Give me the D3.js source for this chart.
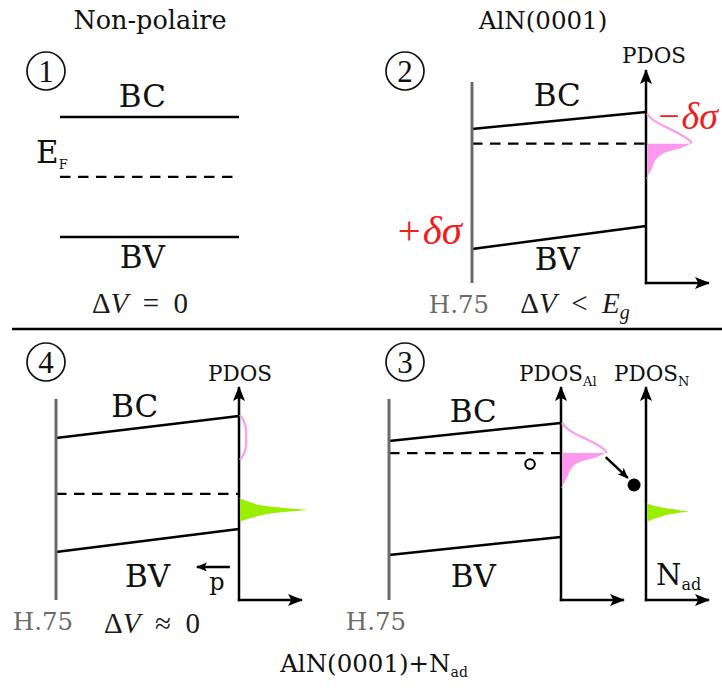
<!DOCTYPE html>
<html>
<head>
<meta charset="utf-8">
<script src="https://cdn.jsdelivr.net/npm/d3@7"></script>
<style>
body{margin:0;background:#fff}
svg{display:block}
text{font-family:"DejaVu Serif",serif;fill:#111}
.math{font-family:"Liberation Serif","Times New Roman",serif}
</style>
</head>
<body>
<div id="wrapper"></div>
<script>
// band edges, in % of the panel height (0 = foot of the PDOS axis, 100 = arrow tip)
const panelIds   = ["1", "2", "4", "3"];
const bcLeft     = [77.9, 72.3, 76.1, 74.6];
const bcRight    = [77.9, 80.3, 86.4, 83.1];
const fermiLevel = [49.8, 65.4, 49.8, 69.0];
const bvLeft     = [21.6, 16.0, 22.5, 21.1];
const bvRight    = [21.6, 26.8, 33.3, 29.6];
const titles     = ["Non-polaire", "AlN(0001)"];
const surfaceLabel = "H.75";

// PDOS curves : [energy, density]
// Al surface state, energy relative to E_F
const pdosAl = [[14.1,0],[11.5,0.08],[8.5,0.25],[6.5,0.39],[4.7,0.51],[2.5,0.63],[0.5,0.70],[0,0.70],
                [-1.9,0.57],[-4.2,0.30],[-7.0,0.17],[-11.3,0.10],[-14.5,0.04],[-16.4,0]];
// empty state near BC, panel 4
const pdosEmpty4 = [[86.9,0],[84,0.06],[80,0.095],[75,0.1],[70,0.08],[67.5,0.04],[65.7,0]];
// N adatom states
const pdosN4 = [[47.9,0],[46.5,0.12],[45.5,0.22],[44.6,0.32],[43.7,0.55],[43.0,0.8],[42.3,1.07],
                [41.6,0.8],[40.8,0.55],[39.5,0.32],[38.4,0.18],[37.4,0.07],[36.6,0]];
const pdosN3 = [[45.5,0],[44.6,0.08],[43.7,0.22],[42.8,0.38],[42.3,0.5],[41.5,0.67],
                [40.8,0.5],[40.2,0.38],[39.0,0.22],[37.6,0.08],[36.6,0]];
// charge transfer, panel 3 : hole (slab fraction, E), electron (density, E)
const hole3 = [0.82, 63.8];
const electron3 = [1.16, 54.0];
const transfer3 = [[0.71, 67.1], [1.06, 57.3]];
// polarisation vector, panel 4 (slab fraction, E)
const pVector = [[0.95, 15.5], [0.77, 15.5]];

const width = 722, height = 690;
const panelH = 213, dosW = 63;

const layout = [
  {x0:60,  x1:239, base:283, gray:false, axes:[],         num:[46,71]},
  {x0:472, x1:646, base:283, gray:true,  axes:[646],      num:[405,71]},
  {x0:56,  x1:239, base:600, gray:true,  axes:[239],      num:[46,362]},
  {x0:389, x1:561, base:600, gray:true,  axes:[561, 646], num:[405,362]}
];
const bcLabel = [[0.46,82.6],[0.49,83.1],[0.43,85.9],[0.49,83.6]];
const bvLabel = [[0.46,7.0],[0.49,6.1],[0.50,6.1],[0.49,6.1]];

const svg = d3.select("#wrapper").append("svg")
    .attr("width", width).attr("height", height);

const defs = svg.append("defs");
const addMarker = (id, len, w) => {
  defs.append("marker")
    .attr("id", id)
    .attr("markerUnits", "userSpaceOnUse")
    .attr("viewBox", `0 ${-w/2} ${len} ${w}`)
    .attr("markerWidth", len).attr("markerHeight", w)
    .attr("refX", len - 1).attr("refY", 0)
    .attr("orient", "auto")
    .append("path")
    .attr("d", `M0,${-w/2}L${len},0L0,${w/2}L${len*0.22},0Z`)
    .attr("fill", "#000");
};
addMarker("big", 15, 12);
addMarker("small", 11, 9);

const pinkLine = "#f6a2ec", pinkFill = "#fc98ee", green = "#9aee00";
const grey = "#6b6b6b", red = "#f21d1d";

// separator
svg.append("line")
  .attr("x1", 12).attr("x2", width).attr("y1", 329).attr("y2", 329)
  .attr("stroke", "#000").attr("stroke-width", 2.5);

const scales = [];

layout.forEach((p, i) => {
  const y = d3.scaleLinear().domain([0, 100]).range([p.base, p.base - panelH]);
  const x = d3.scaleLinear().domain([0, 1]).range([p.x0, p.x1]);
  scales.push({x, y});
  const g = svg.append("g");

  // bands
  const bands = [[bcLeft[i], bcRight[i]], [bvLeft[i], bvRight[i]]];
  g.selectAll(".band").data(bands).enter().append("line")
    .attr("x1", x(0)).attr("x2", x(1))
    .attr("y1", d => y(d[0])).attr("y2", d => y(d[1]))
    .attr("stroke", "#000").attr("stroke-width", 2.5);

  g.append("line")
    .attr("x1", x(0)).attr("x2", x(1))
    .attr("y1", y(fermiLevel[i])).attr("y2", y(fermiLevel[i]))
    .attr("stroke", "#000").attr("stroke-width", 2.3)
    .attr("stroke-dasharray", "10.5,7.5");

  if (p.gray) {
    g.append("line")
      .attr("x1", x(0)).attr("x2", x(0))
      .attr("y1", y(0)).attr("y2", y(94.4))
      .attr("stroke", grey).attr("stroke-width", 3);
    g.append("text")
      .attr("x", x(0) - 13).attr("y", y(0) + 30)
      .attr("text-anchor", "middle").style("font-size", "24.5px").style("fill", grey)
      .text(surfaceLabel);
  }

  p.axes.forEach(ax => {
    g.append("line")
      .attr("x1", ax).attr("x2", ax).attr("y1", y(0) + 1.2).attr("y2", y(100))
      .attr("stroke", "#000").attr("stroke-width", 2.5)
      .attr("marker-end", "url(#big)");
    g.append("line")
      .attr("x1", ax - 1.2).attr("x2", ax + dosW).attr("y1", y(0)).attr("y2", y(0))
      .attr("stroke", "#000").attr("stroke-width", 2.5)
      .attr("marker-end", "url(#big)");
  });

  // band labels
  g.append("text")
    .attr("x", x(bcLabel[i][0])).attr("y", y(bcLabel[i][1]))
    .attr("text-anchor", "middle").style("font-size", "31px").text("BC");
  g.append("text")
    .attr("x", x(bvLabel[i][0])).attr("y", y(bvLabel[i][1]))
    .attr("text-anchor", "middle").style("font-size", "31px").text("BV");

  // circled number
  g.append("circle")
    .attr("cx", p.num[0]).attr("cy", p.num[1]).attr("r", 19)
    .attr("fill", "none").attr("stroke", "#111").attr("stroke-width", 1.7);
  g.append("text").attr("class", "math")
    .attr("x", p.num[0]).attr("y", p.num[1] + 10.5)
    .attr("text-anchor", "middle").style("font-size", "31px")
    .text(panelIds[i]);
});

// PDOS drawing helper
const drawPdos = (pts, ax, y, opts) => {
  const xd = d3.scaleLinear().domain([0, 1]).range([ax, ax + dosW]);
  if (opts.fill) {
    svg.append("path")
      .attr("d", d3.area().curve(d3.curveMonotoneY)
        .y(d => y(d[0])).x0(xd(0) + 1).x1(d => xd(d[1]))(pts))
      .attr("fill", opts.fill);
  }
  if (opts.stroke) {
    svg.append("path")
      .attr("d", d3.line().curve(d3.curveMonotoneY)
        .y(d => y(d[0])).x(d => xd(d[1]) + 1)(pts))
      .attr("fill", "none").attr("stroke", opts.stroke).attr("stroke-width", 2.3);
  }
};

// Al surface states in panels 2 and 3
[1, 3].forEach(i => {
  const ef = fermiLevel[i];
  const pts = pdosAl.map(d => [d[0] + ef, d[1]]);
  const above = pts.filter(d => d[0] >= ef);
  const below = pts.filter(d => d[0] <= ef);
  drawPdos(below, layout[i].axes[0], scales[i].y, {fill: pinkFill});
  drawPdos(above, layout[i].axes[0], scales[i].y, {stroke: pinkLine});
});

// panel 4 states
drawPdos(pdosEmpty4, layout[2].axes[0], scales[2].y, {stroke: pinkLine});
drawPdos(pdosN4, layout[2].axes[0], scales[2].y, {fill: green});
// panel 3 N adatom
drawPdos(pdosN3, layout[3].axes[1], scales[3].y, {fill: green});

// charge transfer in panel 3
{
  const s = scales[3];
  const xd = d3.scaleLinear().domain([0, 1]).range([layout[3].axes[0], layout[3].axes[0] + dosW]);
  svg.append("circle")
    .attr("cx", s.x(hole3[0])).attr("cy", s.y(hole3[1])).attr("r", 4.8)
    .attr("fill", "#fff").attr("stroke", "#000").attr("stroke-width", 2);
  svg.append("circle")
    .attr("cx", xd(electron3[0])).attr("cy", s.y(electron3[1])).attr("r", 6.5)
    .attr("fill", "#000");
  svg.append("line")
    .attr("x1", xd(transfer3[0][0])).attr("y1", s.y(transfer3[0][1]))
    .attr("x2", xd(transfer3[1][0])).attr("y2", s.y(transfer3[1][1]))
    .attr("stroke", "#000").attr("stroke-width", 2.5)
    .attr("marker-end", "url(#small)");
}

// polarisation vector in panel 4
{
  const s = scales[2];
  svg.append("line")
    .attr("x1", s.x(pVector[0][0])).attr("y1", s.y(pVector[0][1]))
    .attr("x2", s.x(pVector[1][0])).attr("y2", s.y(pVector[1][1]))
    .attr("stroke", "#000").attr("stroke-width", 2.5)
    .attr("marker-end", "url(#small)");
  svg.append("text")
    .attr("x", s.x(0.88)).attr("y", s.y(4.7))
    .attr("text-anchor", "middle").style("font-size", "24px").text("p");
}

// titles
svg.append("text").attr("x", 150).attr("y", 29).attr("text-anchor", "middle")
  .style("font-size", "25.5px").text(titles[0]);
svg.append("text").attr("x", 543).attr("y", 29).attr("text-anchor", "middle")
  .style("font-size", "24.5px").text(titles[1]);

// E_F label
const efLabel = svg.append("text").attr("x", 36).attr("y", 163).style("font-size", "31px");
efLabel.append("tspan").text("E");
efLabel.append("tspan").attr("dy", 6).style("font-size", "13px").text("F");

// PDOS labels
svg.append("text").attr("x", 654).attr("y", 63).attr("text-anchor", "middle")
  .style("font-size", "21.5px").text("PDOS");
svg.append("text").attr("x", 240).attr("y", 381).attr("text-anchor", "middle")
  .style("font-size", "21.5px").text("PDOS");
const pa = svg.append("text").attr("x", 519).attr("y", 381).style("font-size", "21.5px");
pa.append("tspan").text("PDOS");
pa.append("tspan").attr("dy", 5).style("font-size", "13px").text("Al");
const pn = svg.append("text").attr("x", 614).attr("y", 381).style("font-size", "21.5px");
pn.append("tspan").text("PDOS");
pn.append("tspan").attr("dy", 5).style("font-size", "13px").text("N");
const nad = svg.append("text").attr("x", 656).attr("y", 585).style("font-size", "29px");
nad.append("tspan").text("N");
nad.append("tspan").attr("dy", 5).style("font-size", "16px").text("ad");

// charges
svg.append("text").attr("class", "math").attr("x", 462).attr("y", 244)
  .attr("text-anchor", "end").style("font-size", "41px").style("font-style", "italic")
  .style("fill", red).text("+δσ");
svg.append("text").attr("class", "math").attr("x", 718).attr("y", 129)
  .attr("text-anchor", "end").style("font-size", "38px").style("font-style", "italic")
  .style("fill", red).text("−δσ");

// potential drops
const mathLabel = (cx, yb, parts) => {
  const t = svg.append("text").attr("class", "math").attr("x", cx).attr("y", yb)
    .attr("text-anchor", "middle").style("font-size", "29px").style("fill", "#1a1a1a");
  parts.forEach(([s, it, extra]) => {
    const ts = t.append("tspan").text(s);
    if (it) ts.style("font-style", "italic");
    if (extra) extra(ts);
  });
};
mathLabel(140, 313, [["Δ"], ["V", true], ["\u2002=\u20020"]]);
mathLabel(575, 313, [["Δ"], ["V", true], ["\u2002<\u2002"], ["E", true],
  ["g", true, ts => ts.attr("dy", 6).style("font-size", "20px")]]);
mathLabel(152, 633, [["Δ"], ["V", true], ["\u2002≈\u20020"]]);

// bottom label
const bl = svg.append("text").attr("x", 374).attr("y", 672).attr("text-anchor", "middle")
  .style("font-size", "24.5px");
bl.append("tspan").text("AlN(0001)+N");
bl.append("tspan").attr("dy", 5).style("font-size", "14px").text("ad");
</script>
</body>
</html>
